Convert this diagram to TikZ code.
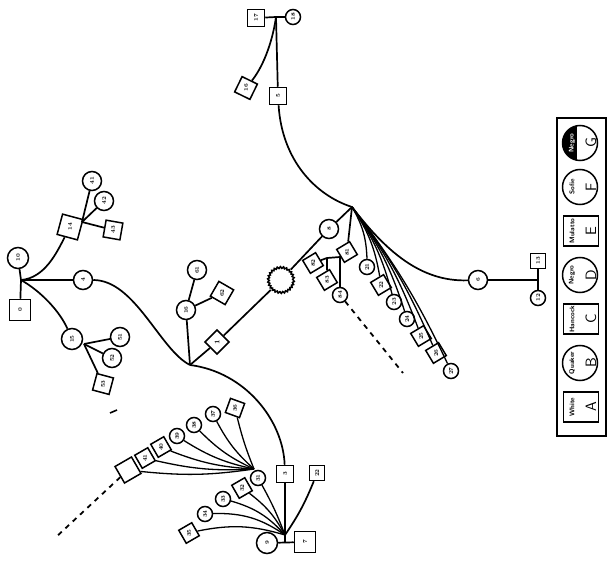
\documentclass[tikz,border=0pt]{standalone}
\usetikzlibrary{decorations.pathmorphing}
\begin{document}
\begin{tikzpicture}[x=1pt,y=-1pt,
  ln/.style={line width=1.7pt},
  fl/.style={line width=1.3pt},
  dsh/.style={line width=1.8pt, dash pattern=on 5pt off 5pt},
  lab/.style={font=\fontsize{5.5}{5.5}\selectfont\bfseries},
  sq/.style={draw, rectangle, line width=1.5pt, minimum size=17pt, inner sep=0pt, fill=white, lab, rotate=90},
  ci/.style={draw, circle, line width=1.5pt, minimum size=19pt, inner sep=0pt, fill=white, lab, rotate=90},
  tx/.style={lab, rotate=90, inner sep=0pt},
  sm/.style={minimum size=15pt},
  big/.style={minimum size=21pt},
  lsq/.style={draw, rectangle, line width=1.5pt, minimum width=30pt, minimum height=35pt, rotate=90},
  lci/.style={draw, circle, line width=1.5pt, minimum size=35pt},
  lword/.style={font=\fontsize{6.8}{6.8}\selectfont\bfseries\sffamily, rotate=90, inner sep=0pt},
  llet/.style={font=\fontsize{15}{15}\selectfont\sffamily, rotate=90, inner sep=0pt},
]
\useasboundingbox (0,0) rectangle (608,564);

% ---------- top group ----------
\node[sq] (n17) at (256,18) {17};
\node[ci, sm] (n18) at (293,17) {18};
\coordinate (jt) at (276,17);
\node[sq] (n5) at (278,96) {5};
\node[sq, rotate=-26] (n16) at (246,88) {};
\node[tx] (n16t) at (n16) {16};
\draw[ln] (n17) -- (jt) -- (n18);
\draw[ln] (jt) -- (n5);
\draw[ln] (jt) .. controls (272,45) and (262,68) .. (n16);

% ---------- central hub ----------
\coordinate (hub) at (352,207);
\draw[ln] (n5) .. controls (282,160) and (315,195) .. (hub);
\node[ci] (n8) at (329,229) {8};
\node[circle, minimum size=28pt, inner sep=0pt] (sun) at (281,280) {};
\draw[line width=1.6pt, decorate, decoration={zigzag, segment length=3pt, amplitude=0.8pt}] (sun.center) circle[radius=12.5pt];
\node[sq, rotate=45] (n1) at (217,342) {};
\node[tx, font=\fontsize{7}{7}\selectfont\bfseries] (n1t) at (n1) {1};
\coordinate (J1) at (190,365);
\draw[ln] (hub) -- (n8) -- (sun) -- (n1) -- (J1);

% right branch
\node[ci] (n6) at (478,280) {6};
\coordinate (jr) at (538,280);
\node[sq, sm] (n13) at (538,261) {13};
\node[ci, sm] (n12) at (538,298) {12};
\draw[ln] (hub) .. controls (385,250) and (420,282) .. (n6);
\draw[ln] (n6) -- (jr);
\draw[ln] (n13) -- (jr) -- (n12);

% hub fan
\node[ci, sm] (f1) at (367,267) {21};
\node[sq, sm, rotate=31] (f2) at (381,285) {};
\node[tx] (f2t) at (f2) {22};
\node[ci, sm] (f3) at (394,302) {23};
\node[ci, sm] (f4) at (407,319) {24};
\node[sq, sm, rotate=31] (f5) at (421,336) {};
\node[tx] (f5t) at (f5) {25};
\node[sq, sm, rotate=31] (f6) at (436,353) {};
\node[tx] (f6t) at (f6) {26};
\node[ci, sm] (f7) at (451,371) {27};
\foreach \f/\b in {f1/14,f2/12,f3/10,f4/9,f5/8,f6/7,f7/6}
  \draw[fl] (hub) to[bend left=\b] (\f);

% small family below hub
\node[sq, sm, rotate=31] (k1) at (347,252) {};
\node[tx] (k1t) at (k1) {81};
\node[sq, sm, rotate=31] (k2) at (313,263) {};
\node[tx] (k2t) at (k2) {82};
\node[sq, sm, rotate=31] (k3) at (327,280) {};
\node[tx] (k3t) at (k3) {83};
\node[ci, sm] (k4) at (340,295) {84};
\coordinate (ka) at (327,258);
\coordinate (kb) at (340,257);
\draw[ln] (hub) -- (k1);
\draw[ln] (k2) -- (ka) -- (kb) -- (k1);
\draw[ln] (ka) -- (k3);
\draw[ln] (kb) -- (k4);
\coordinate (d1) at (403,373);
\draw[dsh] (k4) -- (d1);

% ---------- upper left family ----------
\node[ci, big] (c10) at (18,258) {10};
\node[sq, big] (s0) at (20,310) {0};
\coordinate (J0) at (21,280);
\draw[ln] (c10) -- (J0) -- (s0);
\node[ci] (c4) at (83,280) {4};
\draw[ln] (J0) -- (c4);
\draw[ln] (c4) .. controls (135,280) and (160,350) .. (J1);

\node[sq, big, rotate=-15] (s14) at (70,227) {};
\node[tx] (s14t) at (s14) {14};
\draw[ln] (J0) .. controls (45,278) and (57,252) .. (s14);
\coordinate (jc14) at (82,222);
\node[ci] (c141) at (92,181) {41};
\node[ci] (c142) at (104,201) {42};
\node[sq, rotate=-10] (s143) at (113,230) {};
\node[tx] (s143t) at (s143) {43};
\draw[ln] (jc14) -- (c141);
\draw[ln] (jc14) -- (c142);
\draw[ln] (jc14) -- (s143);

\node[ci, big] (c15) at (72,339) {15};
\draw[ln] (J0) .. controls (42,292) and (60,312) .. (c15);
\coordinate (jc15) at (84,344);
\node[ci] (c151) at (120,337) {51};
\node[ci] (c152) at (112,358) {52};
\node[sq, rotate=-15] (s153) at (103,384) {};
\node[tx] (s153t) at (s153) {53};
\draw[ln] (jc15) -- (c151);
\draw[ln] (jc15) -- (c152);
\draw[ln] (jc15) -- (s153);

\node[ci] (c16) at (186,310) {16};
\node[ci] (c161) at (197,270) {61};
\node[sq, rotate=-30] (s162) at (222,293) {};
\node[tx] (s162t) at (s162) {62};
\draw[ln] (c16) -- (J1);
\draw[ln] (c16) -- (c161);
\draw[ln] (c16) -- (s162);

% ---------- lower family ----------
\node[sq] (s3) at (285,474) {3};
\draw[ln] (J1) .. controls (245,372) and (283,420) .. (s3);
\node[ci, big] (c9) at (267,543) {9};
\node[sq, big] (s7) at (305,542) {7};
\coordinate (J3m) at (285,542);
\coordinate (J3) at (285,535);
\draw[ln] (c9) -- (s7);
\draw[ln] (J3m) -- (J3) -- (s3);
\node[sq, sm] (s22) at (317,473) {22};
\draw[ln] (J3) to[bend right=6] (s22);

\node[ci, sm] (l1) at (258,478) {31};
\node[sq, sm, rotate=30] (l2) at (242,488) {};
\node[tx] (l2t) at (l2) {32};
\node[ci, sm] (l3) at (223,499) {33};
\node[ci, sm] (l4) at (205,514) {34};
\node[sq, sm, rotate=30] (l5) at (189,533) {};
\node[tx] (l5t) at (l5) {35};
\draw[fl] (J3) to[bend right=4] (l1);
\foreach \l/\b in {l2/12,l3/16,l4/18,l5/14}
  \draw[fl] (J3) to[bend right=\b] (\l);

\coordinate (H2) at (254,469);
\node[sq, sm, rotate=-20] (u1) at (235,408) {};
\node[tx] (u1t) at (u1) {36};
\node[ci, sm] (u2) at (213,414) {37};
\node[ci, sm] (u3) at (194,425) {38};
\node[ci, sm] (u4) at (177,436) {39};
\node[sq, sm, rotate=30] (u5) at (161,447) {};
\node[tx] (u5t) at (u5) {40};
\node[sq, sm, rotate=30] (u6) at (145,458) {};
\node[tx] (u6t) at (u6) {41};
\node[sq, minimum size=19pt, rotate=30] (u7) at (128,470) {};
\foreach \u/\b in {u1/4,u2/10,u3/10,u4/10,u5/9,u6/8,u7/7}
  \draw[fl] (H2) to[bend left=\b] (\u);
\coordinate (d2) at (55,538);
\draw[dsh] (u7) -- (d2);
\draw[line width=1.6pt] (110,413) -- (117,410);

% ---------- legend ----------
\node[draw, line width=1.6pt, minimum width=49pt, minimum height=318pt, inner sep=0pt] (leg) at (581.5,277) {};
\begin{scope}
  \clip (580,143) circle[radius=17.5pt];
  \fill (560,120) rectangle (577,170);
\end{scope}
\node[lci] (lG) at (580,143) {};
\node[lword, text=white] (wG) at (572,143) {Negro};
\node[llet] (tG) at (591,143) {G};
\node[lci] (lF) at (580,187) {};
\node[lword] (wF) at (572,187) {Sofie};
\node[llet] (tF) at (591,187) {F};
\node[lsq] (lE) at (581,231) {};
\node[lword] (wE) at (572,231) {Mulatto};
\node[llet] (tE) at (591,231) {E};
\node[lci] (lD) at (580,275) {};
\node[lword] (wD) at (572,275) {Negro};
\node[llet] (tD) at (591,275) {D};
\node[lsq] (lC) at (581,319) {};
\node[lword] (wC) at (572,319) {Hancock};
\node[llet] (tC) at (591,319) {C};
\node[lci] (lB) at (580,363) {};
\node[lword] (wB) at (572,363) {Quaker};
\node[llet] (tB) at (591,363) {B};
\node[lsq] (lA) at (581,407) {};
\node[lword] (wA) at (572,407) {White};
\node[llet] (tA) at (591,407) {A};
\end{tikzpicture}
\end{document}
